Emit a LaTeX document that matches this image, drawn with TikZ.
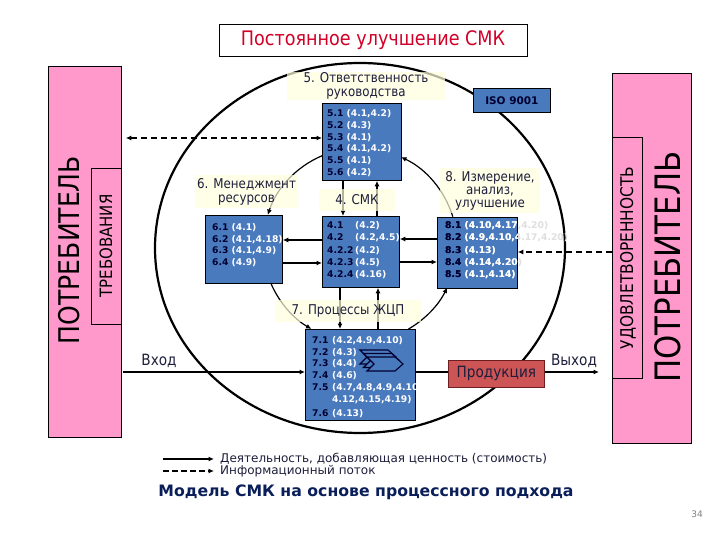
\documentclass[tikz,border=0pt]{standalone}
\usepackage{fontspec}
\setmainfont{DejaVu Sans}
\newfontfamily\tah[FakeStretch=0.88]{DejaVu Sans}
\usetikzlibrary{arrows.meta,calc}
\definecolor{qpink}{RGB}{255,153,204}
\definecolor{qblue}{RGB}{74,122,190}
\definecolor{qnavy}{RGB}{0,0,48}
\definecolor{qlbl}{RGB}{255,255,222}
\definecolor{qtxt}{RGB}{30,30,60}
\definecolor{qred}{RGB}{210,0,40}
\definecolor{qprod}{RGB}{205,85,85}
\definecolor{qprodb}{RGB}{110,30,30}
\definecolor{qtitle}{RGB}{10,30,90}
\newcommand\qnum[1]{\textcolor{qnavy}{#1}}
\newcommand\qref[1]{\textcolor{white}{#1}}
\newcommand\qeight[1]{\begin{tabular}{@{}l@{}}
\qnum{8.1} \textcolor{#1}{(4.10,4.17,4.20)}\\
\qnum{8.2} \textcolor{#1}{(4.9,4.10,4.17,4.20)}\\
\qnum{8.3} \textcolor{#1}{(4.13)}\\
\qnum{8.4} \textcolor{#1}{(4.14,4.20)}\\
\qnum{8.5} \textcolor{#1}{(4.1,4.14)}
\end{tabular}}
\begin{document}
\begin{tikzpicture}[x=1pt,y=-1pt,
  arr/.style={-{Latex[length=5.5pt,width=5pt]}},
  arrboth/.style={{Latex[length=5.5pt,width=5pt]}-{Latex[length=5.5pt,width=5pt]}},
  conn/.style={line width=1.6pt},
  dsh/.style={line width=1.6pt, dash pattern=on 6pt off 4pt},
  bluebox/.style={draw=black, fill=qblue, line width=0.8pt, inner sep=0pt, anchor=north west},
  boxtext/.style={inner sep=0pt, anchor=north west, font=\bfseries\fontsize{9.2}{11.8}\selectfont},
  lbl/.style={fill=qlbl, fill opacity=0.7, text opacity=1, text=qtxt, align=center, inner sep=0pt, font=\tah\fontsize{13.5}{14}\selectfont},
  pinkbox/.style={draw=black, fill=qpink, line width=0.8pt, inner sep=0pt, anchor=north west},
  bigv/.style={rotate=90, text=black, inner sep=0pt},
  legtext/.style={anchor=west, inner sep=0pt, text=qtxt, font=\fontsize{12}{12}\selectfont},
]
\useasboundingbox (0,0) rectangle (720,540);
\fill[white] (0,0) rectangle (720,540);

% customers
\node[pinkbox, minimum width=73pt, minimum height=371pt] (cl) at (48,66) {};
\node[pinkbox, minimum width=30pt, minimum height=156pt] (clr) at (91,168) {};
\node[bigv, font=\tah\fontsize{28.5}{30}\selectfont] (clt) at (69,250) {ПОТРЕБИТЕЛЬ};
\node[bigv, font=\tah\fontsize{17}{18}\selectfont] (clrt) at (106,246) {ТРЕБОВАНИЯ};
\node[pinkbox, minimum width=79pt, minimum height=370pt] (cr) at (612,73) {};
\node[pinkbox, minimum width=30pt, minimum height=241pt] (crs) at (612,137) {};
\node[bigv, font=\tah\fontsize{35}{36}\selectfont] (crt) at (668,267) {ПОТРЕБИТЕЛЬ};
\node[bigv, font=\tah\fontsize{17.5}{18}\selectfont] (crst) at (628,258) {УДОВЛЕТВОРЕННОСТЬ};

% title
\node[draw=black, line width=0.8pt, fill=white, minimum width=308pt, minimum height=32pt, inner sep=0pt, text=qred, font=\tah\fontsize{20}{22}\selectfont] (title) at (373,40) {Постоянное улучшение СМК};

% outer ellipse
\coordinate (oc) at (360,248);
\draw[line width=2.2pt] (oc) ellipse [x radius=205, y radius=185];

% blue boxes
\node[bluebox, minimum width=79pt, minimum height=77pt] (b5) at (322,103) {};
\node[bluebox, minimum width=77pt, minimum height=68pt] (b6) at (205,215) {};
\node[bluebox, minimum width=77pt, minimum height=71pt] (b4) at (322,216) {};
\node[bluebox, minimum width=80pt, minimum height=71pt] (b8) at (437,217) {};
\node[bluebox, minimum width=110pt, minimum height=91pt] (b7) at (305,329) {};
\node[draw=black, fill=qblue, line width=0.8pt, minimum width=77pt, minimum height=24pt, anchor=north west, inner sep=0pt, font=\bfseries\fontsize{10.5}{12}\selectfont, text=qnavy] (iso) at (473,88) {ISO 9001};
\node[draw=qprodb, fill=qprod, line width=0.8pt, minimum width=96pt, minimum height=27pt, anchor=north west, inner sep=0pt, text=qtxt, font=\tah\fontsize{15.5}{16}\selectfont] (prod) at (448,360) {Продукция};

% box contents
\node[boxtext] (t5) at (327,108.1) {\begin{tabular}{@{}l@{}}
\qnum{5.1} \qref{(4.1,4.2)}\\
\qnum{5.2} \qref{(4.3)}\\
\qnum{5.3} \qref{(4.1)}\\
\qnum{5.4} \qref{(4.1,4.2)}\\
\qnum{5.5} \qref{(4.1)}\\
\qnum{5.6} \qref{(4.2)}
\end{tabular}};
\node[boxtext, font=\bfseries\fontsize{9.2}{11.7}\selectfont] (t6) at (212,222.2) {\begin{tabular}{@{}l@{}}
\qnum{6.1} \qref{(4.1)}\\
\qnum{6.2} \qref{(4.1,4.18)}\\
\qnum{6.3} \qref{(4.1,4.9)}\\
\qnum{6.4} \qref{(4.9)}
\end{tabular}};
\node[boxtext, font=\bfseries\fontsize{9.2}{12.25}\selectfont] (t4) at (327,219.8) {\begin{tabular}{@{}p{28pt}@{}l@{}}
\qnum{4.1} & \qref{(4.2)}\\
\qnum{4.2} & \qref{(4.2,4.5)}\\
\qnum{4.2.2} & \qref{(4.2)}\\
\qnum{4.2.3} & \qref{(4.5)}\\
\qnum{4.2.4} & \qref{(4.16)}
\end{tabular}};
\node[boxtext, font=\bfseries\fontsize{9.2}{12.25}\selectfont] (t8g) at (445,219.8) {\qeight{gray!25}};
\begin{scope}
\clip (b8.north west) rectangle (b8.south east);
\node[boxtext, font=\bfseries\fontsize{9.2}{12.25}\selectfont] (t8w) at (445,219.8) {\qeight{white}};
\end{scope}
\node[boxtext, font=\bfseries\fontsize{9.2}{11.7}\selectfont] (t7) at (312,335.2) {\begin{tabular}{@{}p{20pt}@{}l@{}}
\qnum{7.1} & \qref{(4.2,4.9,4.10)}\\
\qnum{7.2} & \qref{(4.3)}\\
\qnum{7.3} & \qref{(4.4)}\\
\qnum{7.4} & \qref{(4.6)}\\
\qnum{7.5} & \qref{(4.7,4.8,4.9,4.10}\\
 & \qref{4.12,4.15,4.19)}\\[2.5pt]
\qnum{7.6} & \qref{(4.13)}
\end{tabular}};
% chevron icon
\foreach \d in {0,3.5,7}
  \draw[fill=qblue, draw=qnavy, line width=1.1pt, shift={(360+\d,350+\d)}]
    (0,0) -- (28,0) -- (36,7) -- (28,14) -- (0,14) -- (7,7) -- cycle;

% inner circle arcs
\coordinate (ic) at (360,245);
\draw[line width=1.2pt, arr] ($(ic)+(247:97)$) arc[start angle=247, end angle=198, radius=97];
\draw[line width=1.2pt, arr] ($(ic)+(157:97)$) arc[start angle=157, end angle=120, radius=97];
\draw[line width=1.2pt, arr] ($(ic)+(60:97)$) arc[start angle=60, end angle=26, radius=97];
\draw[line width=1.2pt, arr] ($(ic)+(-17:97)$) arc[start angle=-17, end angle=-65, radius=97];

% straight connectors
\coordinate (xa) at (343,0);
\coordinate (xb) at (377,0);
\coordinate (xc) at (340,0);
\coordinate (xd) at (378,0);
\coordinate (ya) at (0,240);
\coordinate (yb) at (0,263);
\coordinate (yc) at (0,239);
\coordinate (yd) at (0,262);
\draw[conn, arr] (b5.south -| xa) -- (b4.north -| xa);
\draw[conn, arr] (b4.north -| xb) -- (b5.south -| xb);
\draw[conn, arr] (b4.south -| xc) -- (b7.north -| xc);
\draw[conn, arr] (b7.north -| xd) -- (b4.south -| xd);
\draw[conn, arr] (b4.west |- ya) -- (b6.east |- ya);
\draw[conn, arr] (b6.east |- yb) -- (b4.west |- yb);
\draw[conn, arr] (b8.west |- yc) -- (b4.east |- yc);
\draw[conn, arr] (b4.east |- yd) -- (b8.west |- yd);

\coordinate (inL) at (123,372);
\coordinate (outR) at (599,372);
\draw[conn, arr] (inL) -- (b7.west |- inL);
\draw[conn] (b7.east |- inL) -- (prod.west |- inL);
\draw[conn, arr] (prod.east |- inL) -- (outR);
\node[font=\tah\fontsize{15.5}{16}\selectfont, text=qtxt] (vin) at (159,361) {Вход};
\node[font=\tah\fontsize{15.5}{16}\selectfont, text=qtxt] (vout) at (574,361) {Выход};

\coordinate (dA) at (0,138);
\coordinate (dB) at (0,252);
\draw[dsh, arrboth, shorten <=4pt] (cl.east |- dA) -- (b5.west |- dA);
\draw[dsh, arr] (crs.west |- dB) -- (b8.east |- dB);

% labels
\node[lbl, minimum width=158pt, minimum height=28pt] (l5) at (366,86) {5. Ответственность\\руководства};
\node[lbl, minimum width=103pt, minimum height=33pt] (l6) at (246.5,191.5) {6. Менеджмент\\ресурсов};
\node[lbl, minimum width=76pt, minimum height=22pt] (l4) at (357,200) {4. СМК};
\node[lbl, minimum width=100pt, minimum height=45pt, font=\tah\fontsize{13.5}{12.8}\selectfont] (l8) at (490,191) {8. Измерение,\\анализ,\\улучшение};
\node[lbl, minimum width=146pt, minimum height=22pt] (l7) at (348,311) {7. Процессы ЖЦП};

% legend
\coordinate (lg1a) at (163,459);
\coordinate (lg1b) at (214,459);
\coordinate (lg2a) at (163,471);
\coordinate (lg2b) at (214,471);
\draw[line width=1.3pt, arr] (lg1a) -- (lg1b);
\draw[line width=1.3pt, dash pattern=on 6pt off 3pt, arr] (lg2a) -- (lg2b);
\node[legtext] (lg1t) at (220,459) {Деятельность, добавляющая ценность (стоимость)};
\node[legtext] (lg2t) at (220,471.5) {Информационный поток};
\node[text=qtitle, font=\bfseries\fontsize{15.7}{18}\selectfont] (mtitle) at (366,492) {Модель СМК на основе процессного подхода};
\node[text=gray, font=\fontsize{9}{10}\selectfont] (pg) at (697,514) {34};
\end{tikzpicture}
\end{document}
